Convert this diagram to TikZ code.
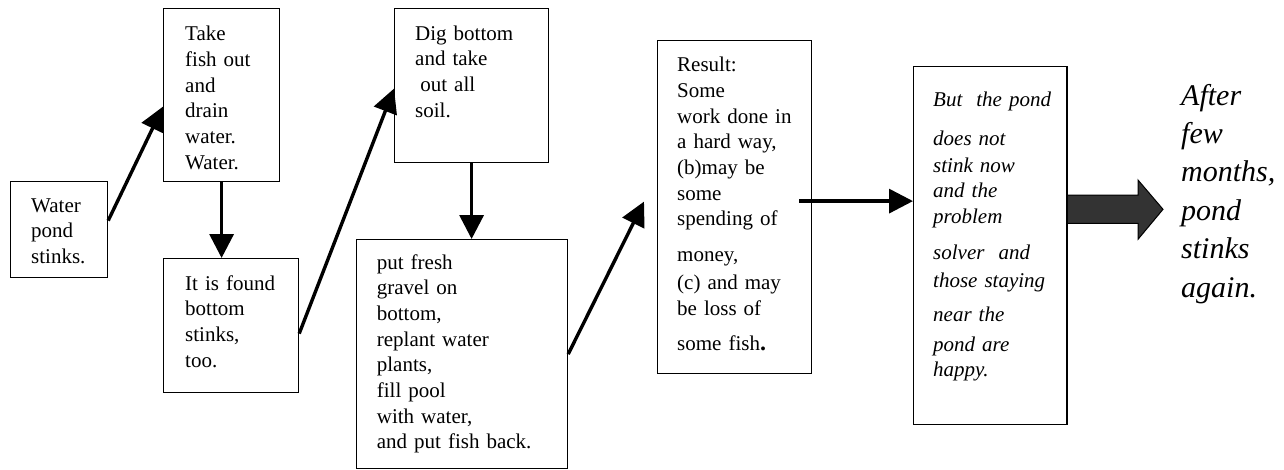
\documentclass[tikz,border=0pt]{standalone}
\usepackage{fontspec}
\setmainfont{Liberation Serif}
\usetikzlibrary{arrows.meta,calc}

\tikzset{
  box/.style={draw=black, line width=1.2pt, fill=white, anchor=north west, inner sep=0pt},
  txt/.style={anchor=base west, inner sep=0pt, text width=#1, align=left,
              font=\fontsize{21}{25.7}\selectfont},
  itxt/.style={txt=#1, font=\fontsize{21}{25.7}\selectfont\itshape},
  conn/.style={line width=3.4pt, -{Triangle[length=24pt,width=24pt]}},
  bigarrow/.style={draw=black, line width=1pt, fill=black!80, line join=miter},
}

\begin{document}
\begin{tikzpicture}[x=1pt,y=-1pt]
  \useasboundingbox (0,0) rectangle (1284,469);

  % process boxes
  \node[box, minimum width=97pt,  minimum height=96pt]  (A) at (10,181)  {};
  \node[box, minimum width=116pt, minimum height=173pt] (B) at (163,8)   {};
  \node[box, minimum width=135pt, minimum height=134pt] (C) at (163,258) {};
  \node[box, minimum width=154pt, minimum height=154pt] (D) at (394,8)   {};
  \node[box, minimum width=211pt, minimum height=229pt] (E) at (356,239) {};
  \node[box, minimum width=154pt, minimum height=333pt] (F) at (657,40)  {};
  \node[box, minimum width=153pt, minimum height=358pt] (G) at (913,66)  {};

  % box texts
  \node[txt=80pt]  (At) at (31,212)   {Water\\pond\\stinks.};
  \node[txt=95pt]  (Bt) at (185,40.7) {Take\\fish out\\and\\drain\\water.\\Water.};
  \node[txt=110pt] (Ct) at (185,290)  {It is found\\bottom\\stinks,\\too.};
  \node[txt=130pt] (Dt) at (415,40)   {Dig bottom\\and take\\\hspace*{5.2pt}out all\\soil.};
  \node[txt=190pt] (Et) at (376.7,269) {put fresh\\gravel on\\bottom,\\replant water\\plants,\\fill pool\\with water,\\and put fish back.};
  \node[txt=130pt] (Ft) at (677,71.7) {Result:\\Some\\work done in\\a hard way,\\(b)may be\\some\\spending of\\[10pt]money,\\[2.6pt](c) and may\\be loss of\\[9.3pt]some fish{\fontsize{24}{25.7}\selectfont\bfseries .}};
  \node[itxt=130pt] (Gt) at (933,106.7) {But\ \ the pond\\[13.3pt]does not\\[0.6pt]stink now\\and the\\problem\\[10.3pt]solver\ \ and\\[2.3pt]those staying\\[8.3pt]near the\\[4.3pt]pond are\\[-0.7pt]happy.};

  % outcome text
  \node[anchor=base west, inner sep=0pt, text width=100pt, align=left,
        font=\fontsize{30}{38.4}\selectfont\itshape] (T) at (1181,105)
        {After\\few\\months,\\pond\\stinks\\again.};

  % connectors
  \draw[conn] ([yshift=9pt]A.east) -- ([yshift=-11.5pt]B.west);
  \draw[conn] (B.south) -- (B.south |- C.north);
  \draw[conn] ([yshift=-8pt]C.east) -- ([yshift=-3pt]D.west);
  \draw[conn] (D.south) -- (D.south |- E.north);
  \coordinate (ef) at ([xshift=-13pt,yshift=5.5pt]F.west);
  \draw[conn] (E.east) -- (ef);
  \coordinate (fg) at ([xshift=-13pt,yshift=6pt]F.east);
  \draw[conn] (fg) -- (fg -| G.west);

  % block arrow towards the outcome
  \draw[bigarrow] (G.east |- 0,195) -- (1138,195) -- (1138,180) -- (1163,209.3)
    -- (1138,239.3) -- (1138,223.3) -- (G.east |- 0,223.3) -- cycle;
  \draw[line width=1.2pt] (G.north east) -- (G.south east);
\end{tikzpicture}
\end{document}
